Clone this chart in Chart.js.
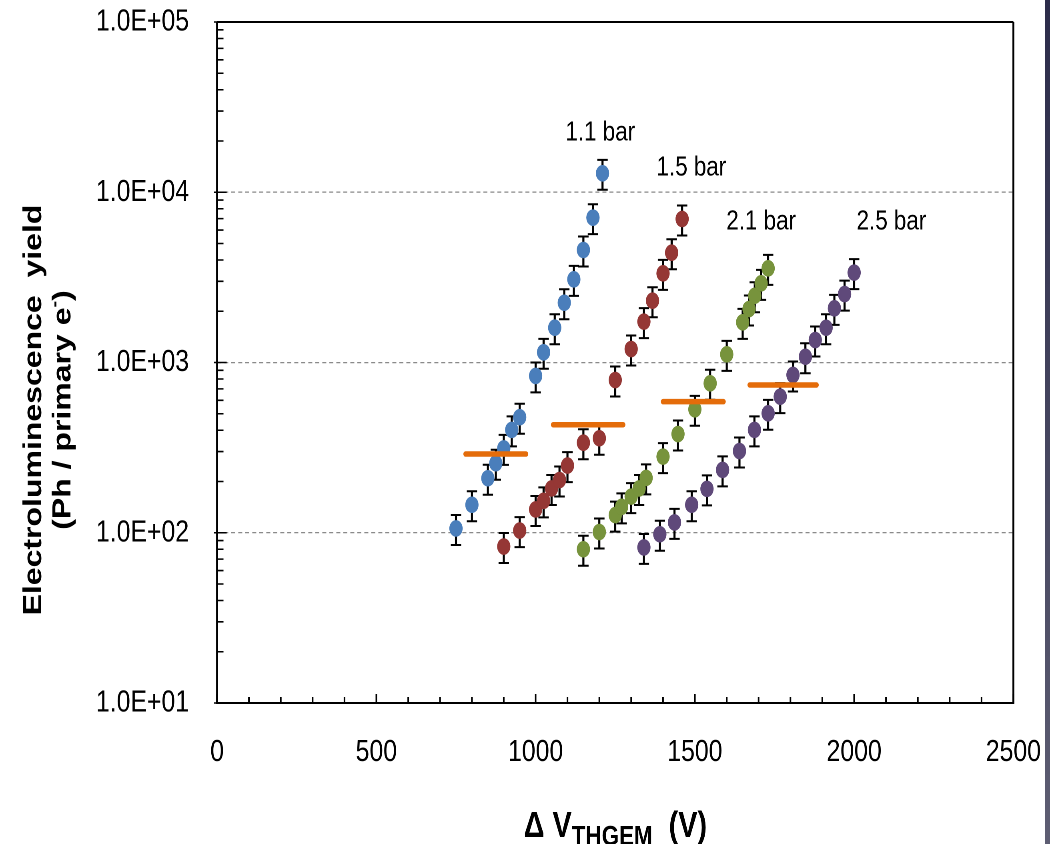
<!DOCTYPE html>
<html>
<head>
<meta charset="utf-8">
<script src="https://cdn.jsdelivr.net/npm/chart.js@4.4.0/dist/chart.umd.min.js"></script>
<style>
  html, body { margin: 0; padding: 0; background: #ffffff; overflow: hidden; width: 1050px; height: 844px; }
  #wrap { width: 1312px; height: 844px; transform: scaleX(0.800305); transform-origin: 0 0; }
</style>
</head>
<body>
<div id="wrap"><canvas id="c" width="1312" height="844"></canvas></div>
<script>
// ---------------- data ----------------
const seriesNames = ['1.1 bar', '1.5 bar', '2.1 bar', '2.5 bar'];

const x11 = [750, 800, 850, 875, 900, 925, 950, 1000, 1025, 1060, 1090, 1120, 1150, 1180, 1210];
const y11 = [106, 146, 209, 256, 313, 402, 477, 834, 1148, 1601, 2244, 3080, 4580, 7090, 12920];

const x15 = [900, 950, 1000, 1025, 1050, 1075, 1100, 1150, 1200, 1250, 1300, 1340, 1367, 1400, 1427, 1460];
const y15 = [83, 103, 137, 154, 182, 204, 248, 338, 359, 789, 1200, 1738, 2307, 3340, 4414, 6966];

const x21 = [1150, 1200, 1250, 1270, 1300, 1325, 1347, 1400, 1447, 1500, 1548, 1600, 1650, 1670, 1688, 1708, 1730];
const y21 = [80, 101, 127, 142, 163, 182, 210, 280, 380, 531, 755, 1117, 1722, 2061, 2466, 2918, 3573];

const x25 = [1340, 1390, 1436, 1490, 1538, 1587, 1640, 1687, 1730, 1768, 1808, 1847, 1878, 1912, 1938, 1970, 2000];
const y25 = [82, 98, 115, 146, 181, 234, 302, 402, 503, 630, 845, 1081, 1355, 1600, 2080, 2523, 3372];

// percentage error bars (as in the spreadsheet setting)
const errorPercent = 20;

// orange threshold segments: [xStart, xEnd] and level
const thresholdX = [[780, 970], [1055, 1275], [1400, 1590], [1672, 1882]];
const thresholdY = [290, 431, 589, 738];

const yTickValues = [10, 100, 1000, 10000, 100000];
const xMin = 0, xMax = 2500, xStep = 500, xMinorStep = 100;
const yMin = 10, yMax = 100000;

// ---------------- styling ----------------
const FONT = '"Liberation Sans", Arial, Helvetica, sans-serif';
const seriesColors = ['#4a7ebb', '#953735', '#77933c', '#5f497a'];
const orange = '#e46c0a';

const xs = [x11, x15, x21, x25];
const ys = [y11, y15, y21, y25];

const datasets = [];
thresholdX.forEach((seg, i) => {
  datasets.push({
    type: 'line',
    label: 'threshold ' + seriesNames[i],
    data: seg.map(x => ({ x: x, y: thresholdY[i] })),
    borderColor: orange,
    backgroundColor: orange,
    borderWidth: 5.5,
    borderCapStyle: 'round',
    pointRadius: 0,
    showLine: true,
    order: 0
  });
});
seriesNames.forEach((name, i) => {
  datasets.push({
    type: 'scatter',
    label: name,
    data: xs[i].map((x, j) => ({ x: x, y: ys[i][j] })),
    backgroundColor: seriesColors[i],
    borderColor: seriesColors[i],
    borderWidth: 0,
    pointRadius: 8.3,
    pointHoverRadius: 8.3,
    isSeries: true,
    order: 1
  });
});

// series labels anchored in data coordinates
const seriesLabelAnchors = [
  { text: '1.1 bar', x: 1203, y: 22280 },
  { text: '1.5 bar', x: 1489, y: 13880 },
  { text: '2.1 bar', x: 1708, y: 6688 },
  { text: '2.5 bar', x: 2117, y: 6688 }
];

const decor = {
  id: 'decor',
  beforeDraw(chart) {
    const ctx = chart.ctx;
    ctx.save();
    ctx.fillStyle = '#ffffff';
    ctx.fillRect(0, 0, chart.width, chart.height);
    const g = ctx.createLinearGradient(0, 0, 0, chart.height);
    g.addColorStop(0, '#2c2c4a');
    g.addColorStop(1, '#5e5e73');
    ctx.fillStyle = g;
    ctx.fillRect(1306, 0, 6, chart.height);
    ctx.restore();
  },
  beforeDatasetsDraw(chart) {
    const ctx = chart.ctx;
    const sx = chart.scales.x, sy = chart.scales.y;
    ctx.save();
    ctx.strokeStyle = '#000000';
    chart.data.datasets.forEach(ds => {
      if (!ds.isSeries) return;
      ds.data.forEach(p => {
        const e = p.y * errorPercent / 100;
        const px = sx.getPixelForValue(p.x);
        const pt = sy.getPixelForValue(p.y + e);
        const pb = sy.getPixelForValue(p.y - e);
        ctx.lineWidth = 2.6;
        ctx.beginPath(); ctx.moveTo(px, pt); ctx.lineTo(px, pb); ctx.stroke();
        ctx.lineWidth = 2;
        ctx.beginPath();
        ctx.moveTo(px - 6.5, pt); ctx.lineTo(px + 6.5, pt);
        ctx.moveTo(px - 6.5, pb); ctx.lineTo(px + 6.5, pb);
        ctx.stroke();
      });
    });
    ctx.restore();
  },
  afterDatasetsDraw(chart) {
    const ctx = chart.ctx;
    const a = chart.chartArea;
    const sx = chart.scales.x, sy = chart.scales.y;
    ctx.save();
    ctx.strokeStyle = '#000000';
    // box
    ctx.lineWidth = 2.4;
    ctx.beginPath();
    ctx.moveTo(a.left, a.top); ctx.lineTo(a.left, a.bottom);
    ctx.moveTo(a.right, a.top); ctx.lineTo(a.right, a.bottom);
    ctx.stroke();
    ctx.lineWidth = 2;
    ctx.beginPath();
    ctx.moveTo(a.left, a.top); ctx.lineTo(a.right, a.top);
    ctx.moveTo(a.left - 1.2, a.bottom); ctx.lineTo(a.right + 1.2, a.bottom);
    ctx.stroke();
    // y tick marks (inside)
    ctx.lineWidth = 1.6;
    ctx.beginPath();
    for (let d = yMin; d <= yMax; d *= 10) {
      for (let m = 1; m <= 9; m++) {
        const v = d * m;
        if (v > yMax) break;
        const py = sy.getPixelForValue(v);
        const len = m === 1 ? 12 : 8;
        ctx.moveTo(a.left - (m === 1 ? 4 : 0), py);
        ctx.lineTo(a.left + len, py);
      }
    }
    ctx.stroke();
    // x tick marks (inside)
    ctx.lineWidth = 2;
    ctx.beginPath();
    for (let v = xMin; v <= xMax; v += xMinorStep) {
      const px = sx.getPixelForValue(v);
      const len = v % xStep === 0 ? 9 : 6;
      ctx.moveTo(px, a.bottom);
      ctx.lineTo(px, a.bottom - len);
    }
    ctx.stroke();
    // series labels
    ctx.fillStyle = '#000000';
    ctx.font = '28px ' + FONT;
    ctx.textAlign = 'center';
    ctx.textBaseline = 'middle';
    seriesLabelAnchors.forEach(l => {
      ctx.fillText(l.text, sx.getPixelForValue(l.x), sy.getPixelForValue(l.y));
    });
    // y axis title
    ctx.save();
    ctx.translate(42.5, 410);
    ctx.rotate(-Math.PI / 2);
    ctx.font = 'bold 32px ' + FONT;
    ctx.textAlign = 'center';
    ctx.textBaseline = 'middle';
    ctx.fillText('Electroluminescence  yield', 0, 0);
    ctx.restore();
    ctx.save();
    ctx.translate(79, 410);
    ctx.rotate(-Math.PI / 2);
    ctx.textBaseline = 'middle';
    ctx.textAlign = 'left';
    const mainF = 'bold 32px ' + FONT, supF = 'bold 20px ' + FONT;
    ctx.font = mainF; const w1 = ctx.measureText('(Ph / primary e').width;
    ctx.font = supF; const w2 = ctx.measureText('-').width;
    ctx.font = mainF; const w3 = ctx.measureText(')').width;
    let cx = -(w1 + w2 + w3) / 2;
    ctx.font = mainF; ctx.fillText('(Ph / primary e', cx, 0); cx += w1;
    ctx.font = supF; ctx.fillText('-', cx, -10); cx += w2;
    ctx.font = mainF; ctx.fillText(')', cx, 0);
    ctx.restore();
    // x axis title
    ctx.textAlign = 'left';
    ctx.textBaseline = 'alphabetic';
    const bigF = 'bold 36px ' + FONT, subF = 'bold 28px ' + FONT;
    ctx.font = bigF; const t1 = ctx.measureText('\u0394 V').width;
    ctx.font = subF; const t2 = ctx.measureText('THGEM').width;
    ctx.font = bigF; const t3 = ctx.measureText('  (V)').width;
    let tx = 769 - (t1 + t2 + t3) / 2;
    ctx.font = bigF; ctx.fillText('\u0394 V', tx, 837); tx += t1;
    ctx.font = subF; ctx.fillText('THGEM', tx, 845); tx += t2;
    ctx.font = bigF; ctx.fillText('  (V)', tx, 837);
    ctx.restore();
  }
};

new Chart(document.getElementById('c'), {
  type: 'scatter',
  data: { datasets: datasets },
  options: {
    responsive: false,
    devicePixelRatio: 2,
    animation: false,
    events: [],
    layout: { padding: { left: 0, top: 22, right: 45.75, bottom: 0 } },
    plugins: { legend: { display: false }, tooltip: { enabled: false } },
    scales: {
      x: {
        type: 'linear',
        min: xMin, max: xMax,
        ticks: {
          stepSize: xStep,
          padding: 31,
          color: '#000000',
          font: { family: FONT, size: 31 },
          maxRotation: 0,
          callback(v) { return String(v); }
        },
        grid: { display: false, drawTicks: false },
        border: { display: false },
        afterFit(s) { s.height = 141; s.paddingLeft = 0; s.paddingRight = 0; }
      },
      y: {
        type: 'logarithmic',
        min: yMin, max: yMax,
        afterBuildTicks(s) { s.ticks = yTickValues.map(v => ({ value: v, major: true })); },
        ticks: {
          padding: 35,
          color: '#000000',
          font: { family: FONT, size: 31 },
          callback(v) { return '1.0E+' + String(Math.round(Math.log10(v))).padStart(2, '0'); }
        },
        grid: {
          drawTicks: false,
          lineWidth: 1.3,
          color(c) {
            const v = c.tick && c.tick.value;
            return (v === yMin || v === yMax) ? 'rgba(0,0,0,0)' : '#8a8a8a';
          }
        },
        border: { display: false, dash: [5, 3.75] },
        afterFit(s) { s.width = 271.25; s.paddingTop = 0; s.paddingBottom = 0; }
      }
    }
  },
  plugins: [decor]
});
</script>
</body>
</html>
